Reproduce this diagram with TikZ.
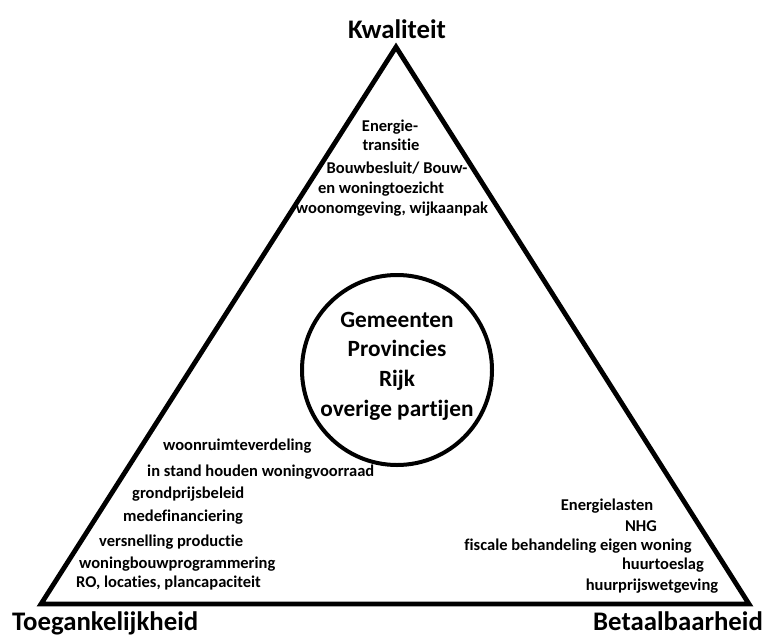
\documentclass[tikz,border=0pt]{standalone}
\usepackage{fontspec}
\setmainfont{Carlito}[Ligatures=CommonOff]
\usetikzlibrary{positioning}

\tikzset{
  corner/.style={font=\fontsize{26.8}{30}\selectfont\bfseries, inner sep=0pt},
  item/.style={font=\fontsize{16.5}{19}\selectfont\bfseries, inner sep=0pt, text height=11pt, text depth=4pt},
  actor/.style={font=\fontsize{23.3}{29.6}\selectfont\bfseries, align=center, inner sep=0pt}
}

\begin{document}
\begin{tikzpicture}[x=1pt, y=-1pt]
  \useasboundingbox (0,0) rectangle (765,637);
  % corners of the triangle
  \coordinate (top) at (396,47);
  \coordinate (left) at (41,604);
  \coordinate (right) at (749,604);
  \draw[line width=4.8pt, line join=miter] (top) -- (right) -- (left) -- cycle;
  % corner labels
  \node[corner] (kwal) at (397,29) {Kwaliteit};
  \node[corner, anchor=west] (toeg) at (12,623) {Toegankelijkheid};
  \node[corner, anchor=east] (betaal) at (763,621) {Betaalbaarheid};
  % quality items
  \node[item] (energie) at (390,128) {Energie-};
  \node[item] (trans) at (391,147) {transitie};
  \node[item] (besluit) at (397,170) {Bouwbesluit/ Bouw-};
  \node[item] (toezicht) at (381,190) {en woningtoezicht};
  \node[item] (omgeving) at (392,210) {woonomgeving, wijkaanpak};
  % accessibility items
  \node[item, anchor=west] (verdeling) at (163,447) {woonruimteverdeling};
  \node[item, anchor=west] (voorraad) at (147,473) {in stand houden woningvoorraad};
  \node[item, anchor=west] (grond) at (132,495) {grondprijsbeleid};
  \node[item, anchor=west] (mede) at (123,518) {medefinanciering};
  \node[item, anchor=west] (versn) at (99,543) {versnelling productie};
  \node[item, anchor=west] (progr) at (79,565) {woningbouwprogrammering};
  \node[item, anchor=west] (ro) at (76,584) {RO, locaties, plancapaciteit};
  % affordability items
  \node[item] (lasten) at (607,507) {Energielasten};
  \node[item] (nhg) at (641,528) {NHG};
  \node[item] (fiscaal) at (578,547) {fiscale behandeling eigen woning};
  \node[item] (toeslag) at (663,566) {huurtoeslag};
  \node[item] (huurprijs) at (652,587) {huurprijswetgeving};
  % parties in the middle
  \node[circle, draw, line width=4pt, minimum size=190pt] (partijen) at (397,370) {};
  \node[actor] (namen) at (397,366) {Gemeenten\\Provincies\\Rijk\\overige partijen};
\end{tikzpicture}
\end{document}
